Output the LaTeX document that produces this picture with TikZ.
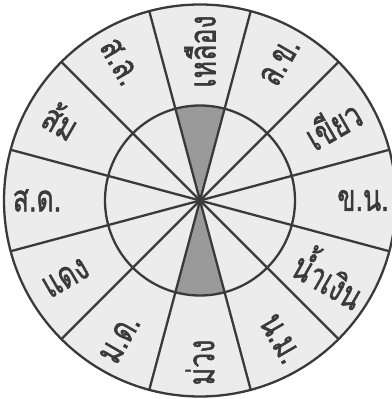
\documentclass[tikz,border=0pt]{standalone}
\usepackage{fontspec}
\usetikzlibrary{calc}
\newfontfamily\thaifont[Script=Thai, FakeBold=1.6]{Loma}
\definecolor{ink}{HTML}{3A3A3A}
\definecolor{paper}{HTML}{ECECEC}
\definecolor{wedgegray}{HTML}{9A9A9A}
\tikzset{
  spoke/.style={draw=ink, line width=2.3pt},
  ring/.style={draw=ink, line width=2.3pt},
  lbl/.style={font=\thaifont\fontsize{37}{37}\selectfont, text=ink, inner sep=0pt, anchor=center}
}
\newcommand{\narrowtxt}[1]{\scalebox{0.72}[1]{#1}}
\begin{document}
\begin{tikzpicture}[x=1pt,y=1pt]
\useasboundingbox (0,0) rectangle (391,399);
\fill[white] (0,0) rectangle (391,399);
\coordinate (c) at (200,198.5);
\fill[paper] (c) circle[radius=196];
% shaded wedges
\fill[wedgegray] (c) -- ++(75:95) arc[start angle=75,end angle=105,radius=95] -- cycle;
\fill[wedgegray] (c) -- ++(255:95) arc[start angle=255,end angle=285,radius=95] -- cycle;
% spokes
\foreach \a in {15,45,...,345}{
  \coordinate (e\a) at ($(c)+(\a:196)$);
  \draw[spoke] (c) -- (e\a);
}
\draw[ring] (c) circle[radius=95];
\draw[ring] (c) circle[radius=196];
% labels
\foreach \ang/\r/\rot/\t/\n in {
  90/149/90/เหลือง/l1, 60/160/60/ล.ข./l2, 30/153/30/เขียว/l3, 0/163/0/ข.น./l4,
  -30/151/-30/น้ำเงิน/l5, -60/160/-60/น.ม./l6, -90/162/90/ม่วง/l7, -120/160/60/ม.ด./l8,
  -150/155/30/แดง/l9, 180/163/0/ส.ด./l10, 150/160/-30/ส้ม/l11, 120/160/-60/ส.ล./l12}{
  \node[lbl, rotate=\rot] (\n) at ($(c)+(\ang:\r)$) {\narrowtxt{\t}};
}
\end{tikzpicture}
\end{document}
